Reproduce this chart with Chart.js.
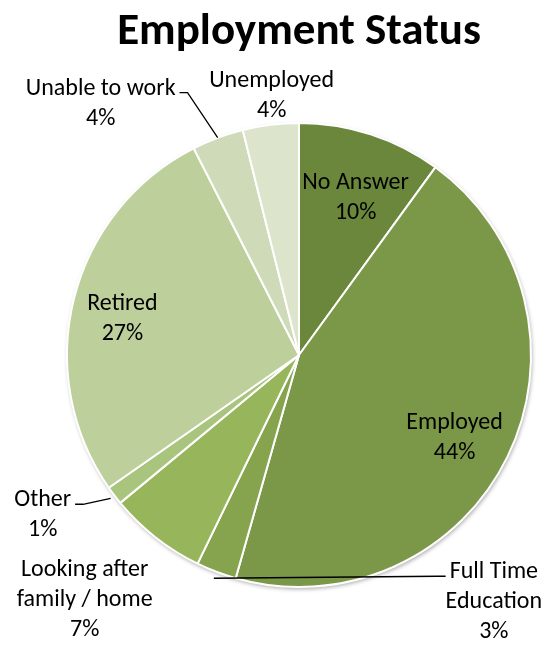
<!DOCTYPE html>
<html>
<head>
<meta charset="utf-8">
<script src="https://cdn.jsdelivr.net/npm/chart.js@4"></script>
<style>
    html, body { margin: 0; padding: 0; background: #fff; }
    #wrap { width: 549px; height: 646px; }
</style>
</head>
<body>
<div id="wrap"><canvas id="statusChart"></canvas></div>
<script>
// survey answers, clockwise from 12 o'clock
const categories = [
    'No Answer', 'Employed', 'Full Time Education', 'Looking after family / home',
    'Other', 'Retired', 'Unable to work', 'Unemployed'
]
const shares = [10.0, 44.4, 2.8, 6.8, 1.3, 27.2, 3.6, 3.9]
// how each label is written (lines before the percentage)
const labelLines = [
    ['No Answer'], ['Employed'], ['Full Time', 'Education'], ['Looking after', 'family / home'],
    ['Other'], ['Retired'], ['Unable to work'], ['Unemployed']
]
const sliceColors = ['#6b873c', '#7b9848', '#86a34e', '#97b55a', '#a9c47d', '#bdcf9b', '#cfdbb8', '#dce5cc']

// label placement: f = distance along the slice middle (x radius), dx/dy nudge,
// leader = which side of the text the connector leaves from
const placement = [
    { f: 0.72, dx: 5, dy: 2 },
    { f: 0.76, dx: -3, dy: 6 },
    { f: 1.03, dx: 280, dy: 24, leader: 'left' },
    { f: 1.0, dx: -71, dy: 63 },
    { f: 1.02, dx: -68, dy: 17, leader: 'right' },
    { f: 0.78, dx: -1, dy: 8 },
    { f: 1.0, dx: -117, dy: -34, leader: 'right' },
    { f: 1.0, dx: 1, dy: -29 }
]

const FONT = 'Carlito, Calibri, Lato, sans-serif'
const LINE_H = 30

const total = shares.reduce((a, b) => a + b, 0)

const pieShadow = {
    id: 'pieShadow',
    beforeDatasetsDraw(chart) {
        const arc = chart.getDatasetMeta(0).data[0]
        if (!arc) return
        const { x, y, outerRadius } = arc.getProps(['x', 'y', 'outerRadius'], true)
        const ctx = chart.ctx
        ctx.save()
        ctx.shadowColor = 'rgba(0,0,0,0.35)'
        ctx.shadowBlur = 4
        ctx.shadowOffsetX = 1
        ctx.shadowOffsetY = 2
        ctx.fillStyle = '#fff'
        ctx.beginPath()
        ctx.arc(x, y, outerRadius, 0, Math.PI * 2)
        ctx.fill()
        ctx.restore()
    }
}

const sliceLabels = {
    id: 'sliceLabels',
    afterDatasetsDraw(chart) {
        const ctx = chart.ctx
        const meta = chart.getDatasetMeta(0)
        ctx.save()
        ctx.font = '24px ' + FONT
        ctx.fillStyle = '#000'
        ctx.textAlign = 'center'
        ctx.textBaseline = 'middle'
        meta.data.forEach((arc, i) => {
            const p = arc.getProps(['x', 'y', 'startAngle', 'endAngle', 'outerRadius'], true)
            const mid = (p.startAngle + p.endAngle) / 2
            const pl = placement[i]
            const ax = p.x + Math.cos(mid) * p.outerRadius * pl.f
            const ay = p.y + Math.sin(mid) * p.outerRadius * pl.f
            const cx = ax + pl.dx
            const cy = ay + pl.dy

            const pct = Math.round(shares[i] / total * 100) + '%'
            const lines = labelLines[i].concat([pct])
            const top = cy - (lines.length - 1) * LINE_H / 2
            lines.forEach((t, k) => ctx.fillText(t, cx, top + k * LINE_H))

            if (pl.leader) {
                const w = ctx.measureText(labelLines[i][0]).width
                const ly = top + 4
                const ex = pl.leader === 'right' ? cx + w / 2 + 4 : cx - w / 2 - 4
                const bx = pl.leader === 'right' ? ex + 8 : ex - 8
                ctx.strokeStyle = '#000'
                ctx.lineWidth = 1.3
                ctx.beginPath()
                ctx.moveTo(ex, ly)
                ctx.lineTo(bx, ly)
                ctx.lineTo(ax, ay)
                ctx.stroke()
            }
        })
        ctx.restore()
    }
}

const data = {
    labels: categories,
    datasets: [{
        data: shares,
        backgroundColor: sliceColors,
        borderColor: '#ffffff',
        borderWidth: 2
    }]
}

const config = {
    type: 'pie',
    data,
    options: {
        responsive: true,
        maintainAspectRatio: false,
        animation: false,
        layout: {
            padding: { top: 0, bottom: 58, left: 66, right: 17 }
        },
        plugins: {
            legend: { display: false },
            tooltip: { enabled: false },
            title: {
                display: true,
                text: 'Employment Status',
                color: '#000',
                font: { family: FONT, size: 45, weight: 'bold', lineHeight: 1.2 },
                padding: { top: 6, bottom: 62 }
            }
        }
    },
    plugins: [pieShadow, sliceLabels]
}

const statusChart = new Chart(document.getElementById('statusChart'), config)
</script>
</body>
</html>
